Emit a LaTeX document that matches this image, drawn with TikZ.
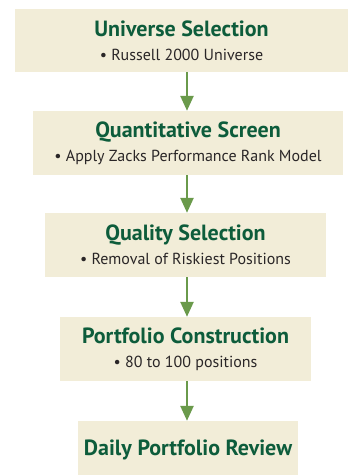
\documentclass[tikz,border=0pt]{standalone}
\usepackage{fontspec}
\setmainfont{PT Sans}
\usetikzlibrary{arrows.meta}
\definecolor{boxfill}{HTML}{F2EDD8}
\definecolor{titlegreen}{HTML}{0D5C3B}
\definecolor{arrowgreen}{HTML}{6A9A4B}
\definecolor{subgray}{HTML}{2A2627}
\newcommand{\steptitle}[1]{{\fontsize{22}{24}\selectfont\bfseries\color{titlegreen}#1}}
\newcommand{\stepsub}[1]{{\color{subgray}\textbullet\ #1}}
\begin{document}
\begin{tikzpicture}[x=1pt,y=-1pt,
    stepbox/.style={fill=boxfill, inner sep=0pt, align=center, font=\fontsize{16}{24}\selectfont},
    flow/.style={draw=arrowgreen, line width=2.4pt, -{Triangle[width=13pt,length=15pt]}}]
      \useasboundingbox[fill=white] (0,0) rectangle (348,475);
      \node[stepbox, minimum width=333pt, minimum height=63pt] (univ) at (181.5,40.5)
        {\steptitle{Universe Selection}\\\stepsub{Russell 2000 Universe}};
      \node[stepbox, minimum width=310pt, minimum height=64pt] (quant) at (188,143)
        {\steptitle{Quantitative Screen}\\\stepsub{Apply Zacks Performance Rank Model}};
      \node[stepbox, minimum width=281pt, minimum height=64pt] (qual) at (185.5,245)
        {\steptitle{Quality Selection}\\\stepsub{Removal of Riskiest Positions}};
      \node[stepbox, minimum width=251pt, minimum height=64pt] (constr) at (185.5,349)
        {\steptitle{Portfolio Construction}\\\stepsub{80 to 100 positions}};
      \node[stepbox, minimum width=220pt, minimum height=58pt] (review) at (188,450)
        {\steptitle{Daily Portfolio Review}};
      \coordinate (ax) at (187,0);
      \draw[flow] (univ.south -| ax) -- (quant.north -| ax);
      \draw[flow] (quant.south -| ax) -- (qual.north -| ax);
      \draw[flow] (qual.south -| ax) -- (constr.north -| ax);
      \draw[flow] (constr.south -| ax) -- (review.north -| ax);
\end{tikzpicture}
\end{document}
